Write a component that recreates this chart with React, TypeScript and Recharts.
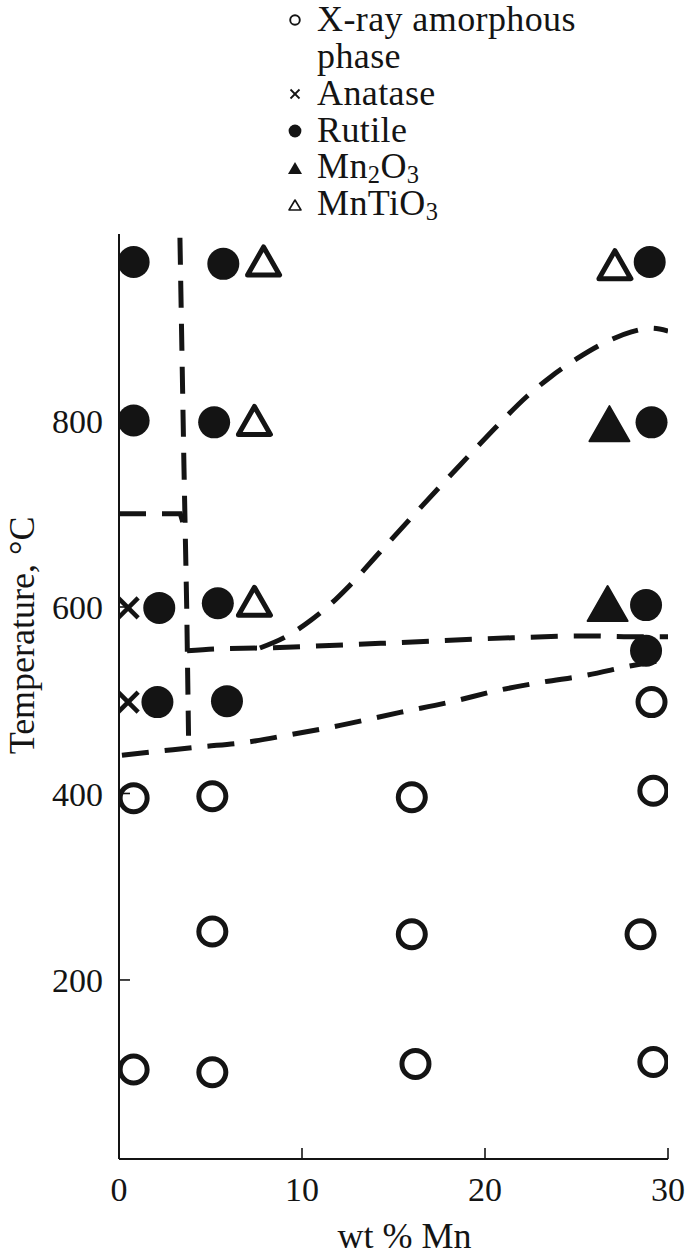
import React from "react";
import { ComposedChart, Line, Scatter, XAxis, YAxis } from "recharts";

type Pt = { x: number; y: number };

const FONT = "'Liberation Serif', 'Times New Roman', serif";
const INK = "#141414";

const X_TICKS = [0, 10, 20, 30];
const Y_TICKS = [200, 400, 600, 800];

// phase points, wt % Mn vs temperature
const amorphous: Pt[] = [
  { x: 0.8, y: 395 }, { x: 5.1, y: 397 }, { x: 16.0, y: 396 }, { x: 29.2, y: 403 },
  { x: 29.1, y: 498 },
  { x: 5.1, y: 252 }, { x: 16.0, y: 249 }, { x: 28.5, y: 249 },
  { x: 0.8, y: 104 }, { x: 5.1, y: 101 }, { x: 16.2, y: 110 }, { x: 29.2, y: 112 },
];
const anatase: Pt[] = [
  { x: 0.5, y: 599 }, { x: 0.5, y: 498 },
];
const rutile: Pt[] = [
  { x: 0.8, y: 970 }, { x: 5.7, y: 968 }, { x: 29.0, y: 970 },
  { x: 0.8, y: 800 }, { x: 5.2, y: 798 }, { x: 29.1, y: 798 },
  { x: 2.2, y: 599 }, { x: 5.4, y: 604 }, { x: 28.8, y: 602 },
  { x: 2.1, y: 498 }, { x: 5.9, y: 499 }, { x: 28.8, y: 553 },
];
const mn2o3: Pt[] = [
  { x: 26.8, y: 795 }, { x: 26.7, y: 602 },
];
const mntio3: Pt[] = [
  { x: 7.9, y: 970 }, { x: 27.1, y: 966 }, { x: 7.4, y: 799 }, { x: 7.4, y: 605 },
];

// dashed phase boundaries
const boundaryVertical: Pt[] = [
  { x: 3.33, y: 996 }, { x: 3.55, y: 750 }, { x: 3.7, y: 600 }, { x: 3.8, y: 462 },
];
const boundary700: Pt[] = [
  { x: 0, y: 700 }, { x: 3.35, y: 700 }, { x: 3.5, y: 690 },
];
const boundary550: Pt[] = [
  { x: 3.72, y: 553 }, { x: 5.36, y: 555 }, { x: 7.7, y: 556 }, { x: 14.3, y: 561 },
  { x: 21.5, y: 567 }, { x: 25.6, y: 569 }, { x: 28.5, y: 568 }, { x: 30, y: 568 },
];
const boundaryMn: Pt[] = [
  { x: 7.7, y: 556 }, { x: 9.2, y: 569 }, { x: 10.5, y: 586 }, { x: 11.5, y: 602 },
  { x: 12.5, y: 621 }, { x: 14.26, y: 659 }, { x: 16.45, y: 706 }, { x: 18.63, y: 752 },
  { x: 20.8, y: 797 }, { x: 22.3, y: 826 }, { x: 23.6, y: 847 }, { x: 25, y: 866 },
  { x: 26.6, y: 884 }, { x: 28, y: 895 }, { x: 29.1, y: 899 }, { x: 30, y: 896 },
];
const boundary450: Pt[] = [
  { x: 0.16, y: 441 }, { x: 2.95, y: 447 }, { x: 4.43, y: 450 }, { x: 6.99, y: 455 },
  { x: 9.34, y: 463 }, { x: 12.08, y: 473 }, { x: 15.36, y: 487 }, { x: 18.09, y: 498 },
  { x: 20.82, y: 511 }, { x: 23, y: 519 }, { x: 25.6, y: 527 }, { x: 28, y: 537 },
  { x: 30, y: 544 },
];

const LEGEND_KINDS = ["open", "cross", "dot", "tri", "openTri"];
const LEGEND_LABELS = [["X-ray amorphous", "phase"], ["Anatase"], ["Rutile"], ["Mn2O3"], ["MnTiO3"]];

const OpenCircle = (p: any) => (
  <circle cx={p.cx} cy={p.cy} r={13.5} fill="none" stroke={INK} strokeWidth={5} />
);
const Dot = (p: any) => <circle cx={p.cx} cy={p.cy} r={16} fill={INK} />;
const Cross = (p: any) => (
  <g stroke={INK} strokeWidth={4.5}>
    <line x1={p.cx - 10} y1={p.cy - 10} x2={p.cx + 10} y2={p.cy + 10} />
    <line x1={p.cx - 10} y1={p.cy + 10} x2={p.cx + 10} y2={p.cy - 10} />
  </g>
);
const FilledTri = (p: any) => (
  <path
    d={`M${p.cx},${p.cy - 19} L${p.cx + 20},${p.cy + 16} L${p.cx - 20},${p.cy + 16} Z`}
    fill={INK}
    stroke={INK}
    strokeWidth={2}
    strokeLinejoin="round"
  />
);
const OpenTri = (p: any) => (
  <path
    d={`M${p.cx},${p.cy - 15} L${p.cx + 16},${p.cy + 13} L${p.cx - 16},${p.cy + 13} Z`}
    fill="none"
    stroke={INK}
    strokeWidth={5}
    strokeLinejoin="round"
  />
);

function LegendIcon({ kind }: { kind: string }) {
  return (
    <svg width={16} height={16} viewBox="-8 -8 16 16" style={{ display: "block" }}>
      {kind === "open" && <circle r={4.8} fill="none" stroke={INK} strokeWidth={1.9} />}
      {kind === "cross" && (
        <g stroke={INK} strokeWidth={1.8}>
          <line x1={-4.5} y1={-4.5} x2={4.5} y2={4.5} />
          <line x1={-4.5} y1={4.5} x2={4.5} y2={-4.5} />
        </g>
      )}
      {kind === "dot" && <circle r={6.4} fill={INK} />}
      {kind === "tri" && <path d="M0,-6 L7,6 L-7,6 Z" fill={INK} />}
      {kind === "openTri" && (
        <path d="M0,-5 L6,5 L-6,5 Z" fill="none" stroke={INK} strokeWidth={1.6} strokeLinejoin="round" />
      )}
    </svg>
  );
}

function withSubs(s: string) {
  return s.split(/(\d)/).map((part, i) =>
    /\d/.test(part) ? (
      <span key={i} style={{ fontSize: "0.68em", verticalAlign: "-0.2em", lineHeight: 1 }}>{part}</span>
    ) : (
      <span key={i}>{part}</span>
    )
  );
}

function PhaseLegend() {
  const rows: { kind: string | null; text: string }[] = [];
  LEGEND_LABELS.forEach((lines, i) =>
    lines.forEach((t, j) => rows.push({ kind: j === 0 ? LEGEND_KINDS[i] : null, text: t }))
  );
  return (
    <div
      style={{
        position: "absolute",
        left: 287,
        top: 1,
        fontFamily: FONT,
        fontSize: 36,
        letterSpacing: 0.4,
        color: INK,
      }}
    >
      {rows.map((r, i) => (
        <div key={i} style={{ display: "flex", alignItems: "center", height: 37, lineHeight: "37px" }}>
          <div style={{ width: 30 }}>{r.kind && <LegendIcon kind={r.kind} />}</div>
          <div style={{ whiteSpace: "nowrap" }}>{withSubs(r.text)}</div>
        </div>
      ))}
    </div>
  );
}

function XTitle({ viewBox }: any) {
  const { x, y, width, height } = viewBox;
  return (
    <text x={x + width / 2 + 11} y={y + height - 9} textAnchor="middle" fontSize={36} fontFamily={FONT} fill={INK}>
      wt % Mn
    </text>
  );
}

function YTitle({ viewBox }: any) {
  const { x, y, height } = viewBox;
  const cx = x + 22;
  const cy = y + height * 0.434;
  return (
    <text
      x={cx}
      y={cy}
      transform={`rotate(-90, ${cx}, ${cy})`}
      textAnchor="middle"
      dominantBaseline="central"
      fontSize={36}
      fontFamily={FONT}
      fill={INK}
    >
      Temperature, °C
    </text>
  );
}

const dashed = {
  stroke: INK,
  strokeWidth: 5,
  strokeDasharray: "27 16",
  dot: false,
  activeDot: false,
  isAnimationActive: false,
  dataKey: "y",
} as const;

export default function App() {
  return (
    <div style={{ position: "absolute", left: 0, top: 0, width: 685, height: 1257, background: "#fff" }}>
      <ComposedChart width={685} height={1257} margin={{ top: 234, right: 17, bottom: 0, left: 0 }}>
        <XAxis
          type="number"
          dataKey="x"
          domain={[0, 30]}
          ticks={X_TICKS}
          interval={0}
          allowDataOverflow
          height={98}
          tickSize={-11}
          tickMargin={29}
          axisLine={{ stroke: INK, strokeWidth: 2 }}
          tickLine={{ stroke: INK, strokeWidth: 1.6 }}
          tick={{ fontSize: 34, fill: INK, fontFamily: FONT }}
          label={<XTitle />}
        />
        <YAxis
          type="number"
          dataKey="y"
          domain={[8, 1000]}
          ticks={Y_TICKS}
          interval={0}
          allowDataOverflow
          width={119}
          tickSize={-11}
          tickMargin={27}
          axisLine={{ stroke: INK, strokeWidth: 2 }}
          tickLine={{ stroke: INK, strokeWidth: 1.6 }}
          tick={{ fontSize: 34, fill: INK, fontFamily: FONT }}
          label={<YTitle />}
        />
        <Line {...dashed} data={boundaryVertical} type="linear" />
        <Line {...dashed} data={boundary700} type="linear" />
        <Line {...dashed} data={boundary550} type="monotone" />
        <Line {...dashed} data={boundaryMn} type="monotone" />
        <Line {...dashed} data={boundary450} type="monotone" />
        <Scatter data={amorphous} dataKey="y" shape={OpenCircle} isAnimationActive={false} />
        <Scatter data={anatase} dataKey="y" shape={Cross} isAnimationActive={false} />
        <Scatter data={rutile} dataKey="y" shape={Dot} isAnimationActive={false} />
        <Scatter data={mn2o3} dataKey="y" shape={FilledTri} isAnimationActive={false} />
        <Scatter data={mntio3} dataKey="y" shape={OpenTri} isAnimationActive={false} />
      </ComposedChart>
      <PhaseLegend />
    </div>
  );
}
